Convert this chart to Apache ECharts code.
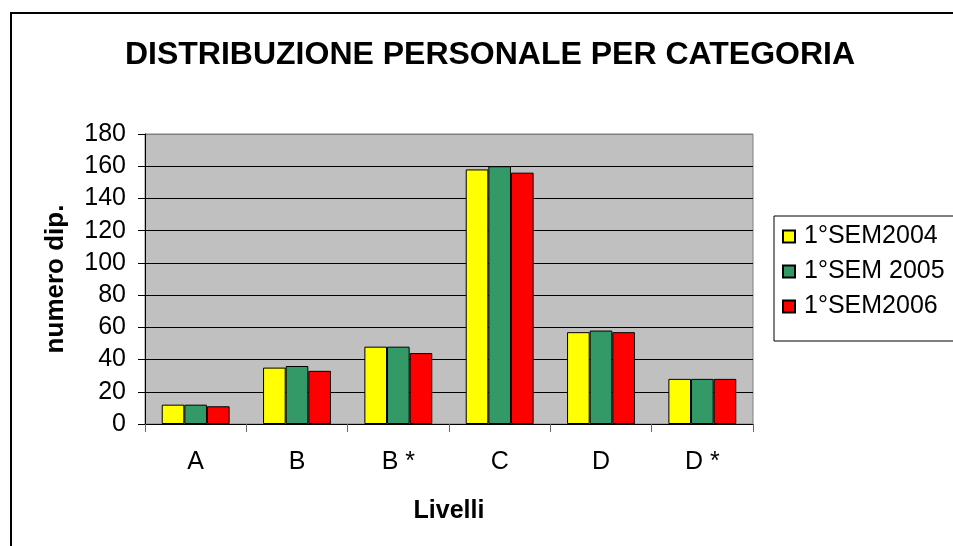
<!DOCTYPE html>
<html>
<head>
<meta charset="utf-8">
<script src="https://cdn.jsdelivr.net/npm/echarts@6/dist/echarts.min.js"></script>
<style>
  html, body { margin: 0; padding: 0; background: #fff; }
  #chart { width: 953px; height: 546px; }
</style>
</head>
<body>
<div id="chart"></div>
<script>
var livelli = ['A', 'B', 'B *', 'C', 'D', 'D *'];
var sem2004 = [12, 35, 48, 158, 57, 28];
var sem2005 = [12, 36, 48, 160, 58, 28];
var sem2006 = [11, 33, 44, 156, 57, 28];
var yTicks = [0, 20, 40, 60, 80, 100, 120, 140, 160, 180];

var font = 'Liberation Sans, Arial, sans-serif';

// una linea per tick, l'ultima grigia come il bordo dell'area
var gridColors = yTicks.map(function (v, i) {
    return i === yTicks.length - 1 ? '#808080' : '#000000';
});

function barSerie(name, color, data) {
    return {
        name: name,
        type: 'bar',
        data: data,
        barGap: '0%',
        barCategoryGap: '33%',
        itemStyle: { color: color, borderColor: '#000', borderWidth: 1 }
    };
}

var chart = echarts.init(document.getElementById('chart'));
chart.setOption({
    animation: false,
    title: {
        text: 'DISTRIBUZIONE PERSONALE PER CATEGORIA',
        left: 485,
        top: 34,
        textAlign: 'center',
        textStyle: { fontFamily: font, fontSize: 32, fontWeight: 'bold', color: '#000' }
    },
    graphic: [{
        type: 'rect',
        silent: true,
        shape: { x: 11, y: 13, width: 2000, height: 2000 },
        style: { fill: 'none', stroke: '#000', lineWidth: 2 }
    }],
    legend: {
        orient: 'vertical',
        left: 774,
        top: 216,
        padding: [8, 40, 22, 8],
        itemGap: 10,
        itemWidth: 12,
        itemHeight: 12,
        icon: 'rect',
        borderColor: '#000',
        borderWidth: 1,
        backgroundColor: '#fff',
        textStyle: { fontFamily: font, fontSize: 25, color: '#000', padding: [0, 0, 0, 4] },
        data: ['1°SEM2004', '1°SEM 2005', '1°SEM2006']
    },
    grid: {
        left: 145,
        right: 200,
        top: 134,
        bottom: 122,
        show: true,
        backgroundColor: '#C0C0C0',
        borderColor: '#808080',
        borderWidth: 1
    },
    xAxis: {
        type: 'category',
        data: livelli,
        name: 'Livelli',
        nameLocation: 'middle',
        nameGap: 75,
        nameTextStyle: { fontFamily: font, fontSize: 25, fontWeight: 'bold', color: '#000' },
        axisLine: { lineStyle: { color: '#000', width: 1 } },
        axisTick: { show: true, length: 8, interval: 0, lineStyle: { color: '#666' } },
        axisLabel: { fontFamily: font, fontSize: 25, color: '#000', margin: 26 }
    },
    yAxis: {
        type: 'value',
        min: 0,
        max: 180,
        interval: 20,
        name: 'numero dip.',
        nameLocation: 'middle',
        nameGap: 76,
        nameTextStyle: { fontFamily: font, fontSize: 26, fontWeight: 'bold', color: '#000' },
        axisLine: { show: true, lineStyle: { color: '#000', width: 1 } },
        axisTick: { show: true, length: 7, lineStyle: { color: '#000' } },
        axisLabel: { fontFamily: font, fontSize: 25, color: '#000', margin: 19 },
        splitLine: { show: true, lineStyle: { color: gridColors, width: 1 } }
    },
    series: [
        barSerie('1°SEM2004', '#FFFF00', sem2004),
        barSerie('1°SEM 2005', '#339966', sem2005),
        barSerie('1°SEM2006', '#FF0000', sem2006)
    ]
});
</script>
</body>
</html>
